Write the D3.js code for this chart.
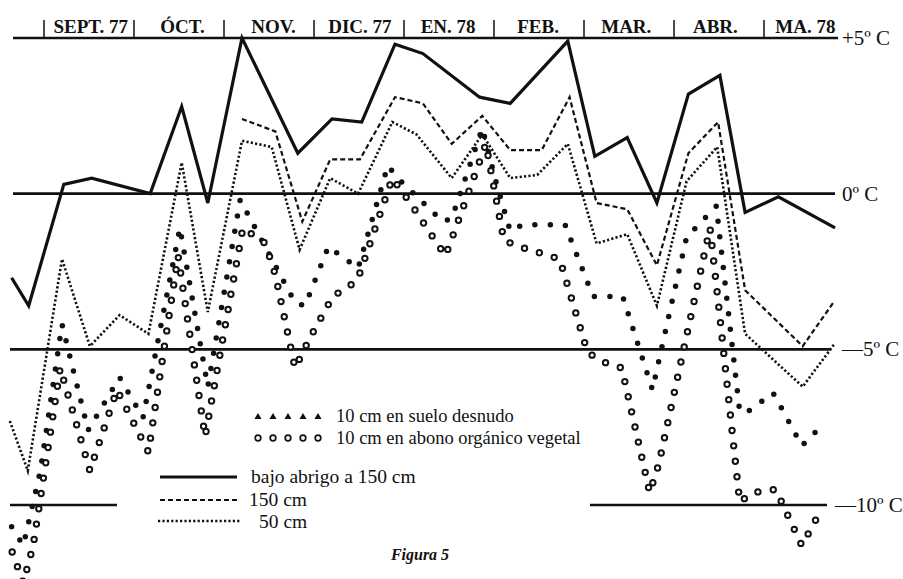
<!DOCTYPE html>
<html lang="es">
<head>
<meta charset="UTF-8" />
<title>Figura 5</title>
<script src="https://cdn.jsdelivr.net/npm/d3@7"></script>
<style>
  body { margin: 0; background: #fff; }
  text { font-family: "Liberation Serif", "DejaVu Serif", serif; fill: #111; }
</style>
</head>
<body>
<svg id="chart" width="903" height="579"></svg>
<script>
// x = months since 1 Sept 1977, y = temperature in ºC

const monthNames = ["SEPT. 77", "ÓCT.", "NOV.", "DIC. 77", "EN. 78", "FEB.", "MAR.", "ABR.", "MA. 78"];
const monthLabelPos = [0.52, 1.54, 2.55, 3.51, 4.49, 5.49, 6.47, 7.46, 8.46];
const monthStarts = [0, 1, 2, 3, 4, 5, 6, 7, 8];

const tempLevels = [5, 0, -5, -10];
const tempLabels = ["+5º C", "0º C", "—5º C", "—10º C"];

// bajo abrigo a 150 cm
const abrigo150 = [[-0.36,-2.7],[-0.17,-3.6],[0.22,0.3],[0.53,0.5],[1.18,0.0],[1.53,2.8],[1.82,-0.3],
  [2.2,5.0],[2.82,1.3],[3.2,2.4],[3.53,2.3],[3.9,4.8],[4.21,4.5],[4.84,3.1],[5.18,2.9],[5.82,4.9],
  [6.12,1.2],[6.48,1.8],[6.81,-0.3],[7.16,3.2],[7.51,3.8],[7.79,-0.6],[8.16,-0.1],[8.79,-1.1]];

// 150 cm
const aire150 = [[2.2,2.4],[2.57,2.0],[2.87,-0.9],[3.18,1.1],[3.51,1.1],[3.9,3.1],[4.21,2.9],[4.53,1.6],
  [4.87,2.5],[5.18,1.4],[5.53,1.4],[5.84,3.1],[6.14,-0.3],[6.48,-0.5],[6.81,-2.3],[7.16,1.3],[7.49,2.3],
  [7.79,-3.1],[8.43,-4.9],[8.77,-3.5]];

// 50 cm
const aire50 = [[-0.38,-7.3],[-0.18,-8.9],[0.2,-2.1],[0.51,-4.9],[0.84,-3.9],[1.16,-4.5],[1.53,1.0],
  [1.82,-3.8],[2.2,1.7],[2.53,1.5],[2.84,-1.8],[3.18,0.5],[3.49,0.0],[3.87,2.3],[4.14,1.9],[4.53,0.5],
  [4.87,1.9],[5.18,0.5],[5.48,0.6],[5.82,1.6],[6.14,-1.6],[6.48,-1.3],[6.81,-3.6],[7.14,0.4],[7.48,1.5],
  [7.79,-4.5],[8.43,-6.2],[8.79,-4.8]];

// 10 cm en suelo desnudo (triangles)
const suelo = [[-0.36,-10.7],[-0.23,-11.3],[-0.04,-8.9],[0.2,-4.2],[0.49,-7.6],[0.84,-5.9],[1.1,-7.2],
  [1.51,-1.1],[1.82,-6.2],[2.18,-0.2],[2.79,-3.5],[2.9,-3.6],[3.16,-1.7],[3.49,-2.4],[3.82,0.9],[3.93,0.5],
  [4.43,-0.9],[4.53,-0.8],[4.87,2.1],[5.03,0.3],[5.18,-1.2],[5.32,-1.0],[5.79,-1.0],[6.1,-3.3],[6.43,-3.3],
  [6.76,-6.3],[6.96,-3.7],[7.14,-1.4],[7.47,-0.4],[7.73,-7.0],[7.82,-7.0],[8.1,-6.4],[8.16,-6.7],
  [8.42,-8.1],[8.66,-7.4]];

// 10 cm en abono orgánico vegetal (circles)
const abono = [[-0.38,-11.3],[-0.23,-12.5],[-0.12,-11.3],[0.18,-5.6],[0.51,-8.9],[0.81,-6.3],[1.16,-8.3],
  [1.49,-2.0],[1.79,-7.8],[2.21,-1.1],[2.46,-1.6],[2.57,-2.6],[2.79,-5.6],[2.96,-4.6],[3.21,-3.3],
  [3.48,-2.8],[3.87,0.5],[4.07,-0.3],[4.46,-2.0],[4.6,-0.9],[4.91,1.6],[5.11,-1.5],[5.28,-1.7],[5.73,-2.1],
  [6.04,-5.1],[6.21,-5.4],[6.42,-5.6],[6.73,-9.6],[6.83,-8.7],[7.4,-1.1],[7.5,-3.7],[7.73,-9.9],
  [7.88,-9.6],[8.13,-9.5],[8.42,-11.3],[8.59,-10.4]];

const legendLabels = ["10 cm en suelo desnudo", "10 cm en abono orgánico vegetal",
  "bajo abrigo a 150 cm", "150 cm", "50 cm"];

const svg = d3.select("#chart");
const ink = "#111";

const x = d3.scaleLinear().domain([0, 8]).range([44, 764]);
const y = d3.scaleLinear().domain([-10, 5]).range([505, 38]);
const line = d3.line().x(d => x(d[0])).y(d => y(d[1]));

// horizontal reference lines (the -10 one is broken in two)
const refSegs = [[5, 13, 838], [0, 13, 835], [-5, 10, 831], [-10, 10, 117], [-10, 590, 827]];
svg.append("g")
  .selectAll("line")
  .data(refSegs)
  .join("line")
  .attr("x1", d => d[1])
  .attr("x2", d => d[2])
  .attr("y1", d => y(d[0]))
  .attr("y2", d => y(d[0]))
  .attr("stroke", ink)
  .attr("stroke-width", 2.6);

// month header
svg.append("g")
  .selectAll("line")
  .data(monthStarts)
  .join("line")
  .attr("x1", d => x(d)).attr("x2", d => x(d))
  .attr("y1", 20).attr("y2", y(5))
  .attr("stroke", ink)
  .attr("stroke-width", 1.5);

svg.append("g")
  .selectAll("text")
  .data(monthNames)
  .join("text")
  .attr("x", (d, i) => x(monthLabelPos[i]))
  .attr("y", 33)
  .attr("text-anchor", "middle")
  .attr("font-size", 19)
  .attr("font-weight", "bold")
  .text(d => d);

// right-hand temperature labels
svg.append("g")
  .selectAll("text")
  .data(tempLevels)
  .join("text")
  .attr("x", (d, i) => (i === 3 ? 835 : 842))
  .attr("y", d => y(d) + 7)
  .attr("font-size", 21)
  .text((d, i) => tempLabels[i]);

// series
svg.append("path")
  .attr("d", line(abrigo150))
  .attr("fill", "none")
  .attr("stroke", ink)
  .attr("stroke-width", 3.2);

svg.append("path")
  .attr("d", line(aire150))
  .attr("fill", "none")
  .attr("stroke", ink)
  .attr("stroke-width", 2.2)
  .attr("stroke-dasharray", "5,3");

svg.append("path")
  .attr("d", line(aire50))
  .attr("fill", "none")
  .attr("stroke", ink)
  .attr("stroke-width", 2.6)
  .attr("stroke-dasharray", "2.2,2.2");

// marker-lines: dots of ink every 15.5 px along the path
svg.append("path")
  .attr("d", line(suelo))
  .attr("fill", "none")
  .attr("stroke", ink)
  .attr("stroke-width", 5.5)
  .attr("stroke-linecap", "round")
  .attr("stroke-dasharray", "0,15.5");

const abonoG = svg.append("g");
abonoG.append("path")
  .attr("d", line(abono))
  .attr("fill", "none")
  .attr("stroke", ink)
  .attr("stroke-width", 7.4)
  .attr("stroke-linecap", "round")
  .attr("stroke-dasharray", "0,15.5")
  .attr("stroke-dashoffset", -7);
abonoG.append("path")
  .attr("d", line(abono))
  .attr("fill", "none")
  .attr("stroke", "#fff")
  .attr("stroke-width", 3.4)
  .attr("stroke-linecap", "round")
  .attr("stroke-dasharray", "0,15.5")
  .attr("stroke-dashoffset", -7);

// legend
const lg = svg.append("g");
const mk = d3.range(5);
lg.selectAll("path.tri")
  .data(mk)
  .join("path")
  .attr("class", "tri")
  .attr("d", d3.symbol(d3.symbolTriangle, 22))
  .attr("transform", d => `translate(${258 + d * 15},417)`)
  .attr("fill", ink);
lg.selectAll("circle")
  .data(mk)
  .join("circle")
  .attr("cx", d => 258 + d * 15)
  .attr("cy", 438)
  .attr("r", 2.8)
  .attr("fill", "#fff")
  .attr("stroke", ink)
  .attr("stroke-width", 1.7);

lg.append("line").attr("x1", 160).attr("x2", 237).attr("y1", 477).attr("y2", 477)
  .attr("stroke", ink).attr("stroke-width", 3.2);
lg.append("line").attr("x1", 160).attr("x2", 240).attr("y1", 500).attr("y2", 500)
  .attr("stroke", ink).attr("stroke-width", 2.2).attr("stroke-dasharray", "5,3");
lg.append("line").attr("x1", 158).attr("x2", 240).attr("y1", 521).attr("y2", 521)
  .attr("stroke", ink).attr("stroke-width", 2.6).attr("stroke-dasharray", "2.2,2.2");

const legendPos = [[336, 422], [336, 444], [251, 483], [249, 506], [259, 528]];
lg.selectAll("text")
  .data(legendLabels)
  .join("text")
  .attr("x", (d, i) => legendPos[i][0])
  .attr("y", (d, i) => legendPos[i][1])
  .attr("font-size", (d, i) => (i < 2 ? 18.5 : 19.5))
  .text(d => d);

svg.append("text")
  .attr("x", 420)
  .attr("y", 560)
  .attr("text-anchor", "middle")
  .attr("font-size", 16)
  .attr("font-style", "italic")
  .attr("font-weight", "bold")
  .text("Figura 5");
</script>
</body>
</html>
